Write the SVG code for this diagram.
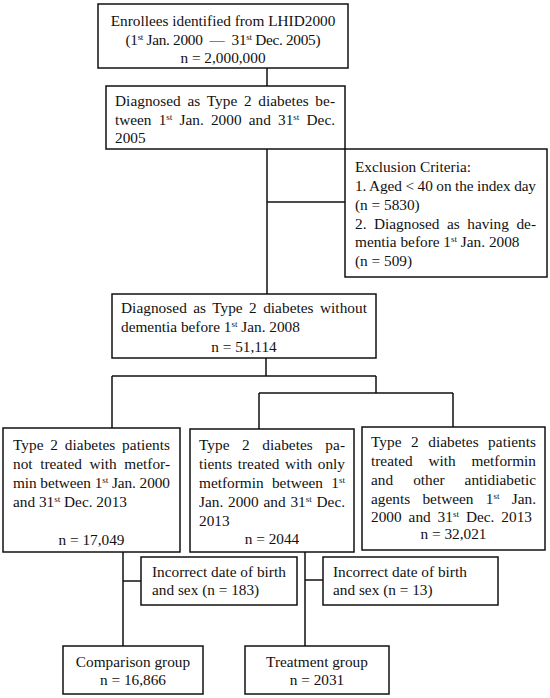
<svg xmlns="http://www.w3.org/2000/svg" width="550" height="698" viewBox="0 0 550 698">
<style>
.box{fill:#fff;stroke:#111;stroke-width:1.5}
.ln{fill:none;stroke:#111;stroke-width:1.5}
text{font-family:"Liberation Serif","Times New Roman",serif;font-size:15.3px;fill:#111}
.c{text-anchor:middle}
.s{font-size:9px}
</style>
<rect width="550" height="698" fill="#fff"/>
<g id="connectors">
<path class="ln" d="M267,68V86M267,149V294M267,202H345M266,358V376M112,376H376M112,376V428M376,376V393M259,393H453M259,393V429M453,393V427M123,552V646M123,581H141M305,552V646M305,580H323"/>
</g>
<g id="n1">
<rect class="box" x="98" y="4" width="250" height="64"/>
<text class="c" x="223" y="26">Enrollees identified from LHID2000</text>
<text class="c" x="223" y="45" textLength="195" lengthAdjust="spacing">(1<tspan class="s" dy="-5">st</tspan><tspan dy="5"> Jan. 2000 &#160;—&#160; 31</tspan><tspan class="s" dy="-5">st</tspan><tspan dy="5"> Dec. 2005)</tspan></text>
<text class="c" x="223" y="63">n = 2,000,000</text>
</g>
<g id="n2">
<rect class="box" x="106" y="86" width="239" height="63"/>
<text x="115" y="106" style="word-spacing:2.8px" textLength="220" lengthAdjust="spacing">Diagnosed as Type 2 diabetes be-</text>
<text x="115" y="125" style="word-spacing:3.4px" textLength="220" lengthAdjust="spacing">tween 1<tspan class="s" dy="-5">st</tspan><tspan dy="5"> Jan. 2000 and 31</tspan><tspan class="s" dy="-5">st</tspan><tspan dy="5"> Dec.</tspan></text>
<text x="115" y="143">2005</text>
</g>
<g id="exclusion">
<rect class="box" x="345" y="149" width="202" height="128"/>
<text x="355" y="172">Exclusion Criteria:</text>
<text x="355" y="191" textLength="181" lengthAdjust="spacing">1. Aged &lt; 40 on the index day</text>
<text x="355" y="210">(n = 5830)</text>
<text x="355" y="229" style="word-spacing:3.7px" textLength="181" lengthAdjust="spacing">2. Diagnosed as having de-</text>
<text x="355" y="247">mentia before 1<tspan class="s" dy="-5">st</tspan><tspan dy="5"> Jan. 2008</tspan></text>
<text x="355" y="266">(n = 509)</text>
</g>
<g id="n3">
<rect class="box" x="112" y="294" width="264" height="64"/>
<text x="121" y="313" style="word-spacing:2.5px" textLength="246" lengthAdjust="spacing">Diagnosed as Type 2 diabetes without</text>
<text x="121" y="332">dementia before 1<tspan class="s" dy="-5">st</tspan><tspan dy="5"> Jan. 2008</tspan></text>
<text class="c" x="244" y="352">n = 51,114</text>
</g>
<g id="n4">
<rect class="box" x="3" y="428" width="177" height="124"/>
<text x="13" y="450" style="word-spacing:2.9px" textLength="157" lengthAdjust="spacing">Type 2 diabetes patients</text>
<text x="13" y="469" style="word-spacing:3.8px" textLength="157" lengthAdjust="spacing">not treated with metfor-</text>
<text x="13" y="488" textLength="157" lengthAdjust="spacing">min between 1<tspan class="s" dy="-5">st</tspan><tspan dy="5"> Jan. 2000</tspan></text>
<text x="13" y="507">and 31<tspan class="s" dy="-5">st</tspan><tspan dy="5"> Dec. 2013</tspan></text>
<text class="c" x="91.5" y="545">n = 17,049</text>
</g>
<g id="n5">
<rect class="box" x="190" y="429" width="164" height="123"/>
<text x="199" y="450" style="word-spacing:8.6px" textLength="146" lengthAdjust="spacing">Type 2 diabetes pa-</text>
<text x="199" y="469" style="word-spacing:1.8px" textLength="146" lengthAdjust="spacing">tients treated with only</text>
<text x="199" y="488" style="word-spacing:4.6px" textLength="146" lengthAdjust="spacing">metformin between 1<tspan class="s" dy="-5">st</tspan></text>
<text x="199" y="507" style="word-spacing:1px" textLength="146" lengthAdjust="spacing">Jan. 2000 and 31<tspan class="s" dy="-5">st</tspan><tspan dy="5"> Dec.</tspan></text>
<text x="199" y="526">2013</text>
<text class="c" x="272" y="544">n = 2044</text>
</g>
<g id="n6">
<rect class="box" x="362" y="427" width="183" height="123"/>
<text x="371" y="447" style="word-spacing:5.6px" textLength="165" lengthAdjust="spacing">Type 2 diabetes patients</text>
<text x="371" y="466" style="word-spacing:12px" textLength="165" lengthAdjust="spacing">treated with metformin</text>
<text x="371" y="485" style="word-spacing:16.2px" textLength="165" lengthAdjust="spacing">and other antidiabetic</text>
<text x="371" y="504" style="word-spacing:8.5px" textLength="165" lengthAdjust="spacing">agents between 1<tspan class="s" dy="-5">st</tspan><tspan dy="5"> Jan.</tspan></text>
<text x="371" y="522" style="word-spacing:3px" textLength="161" lengthAdjust="spacing">2000 and 31<tspan class="s" dy="-5">st</tspan><tspan dy="5"> Dec. 2013</tspan></text>
<text class="c" x="453.5" y="539">n = 32,021</text>
</g>
<g id="excl1">
<rect class="box" x="141" y="557" width="156" height="48"/>
<text x="152" y="577">Incorrect date of birth</text>
<text x="152" y="595">and sex (n = 183)</text>
</g>
<g id="excl2">
<rect class="box" x="323" y="557" width="175" height="48"/>
<text x="333" y="577">Incorrect date of birth</text>
<text x="333" y="595">and sex (n = 13)</text>
</g>
<g id="comparison">
<rect class="box" x="63" y="646" width="140" height="48"/>
<text class="c" x="133" y="667">Comparison group</text>
<text class="c" x="133" y="685">n = 16,866</text>
</g>
<g id="treatment">
<rect class="box" x="245" y="646" width="144" height="48"/>
<text class="c" x="317" y="667">Treatment group</text>
<text class="c" x="317" y="685">n = 2031</text>
</g>
</svg>
